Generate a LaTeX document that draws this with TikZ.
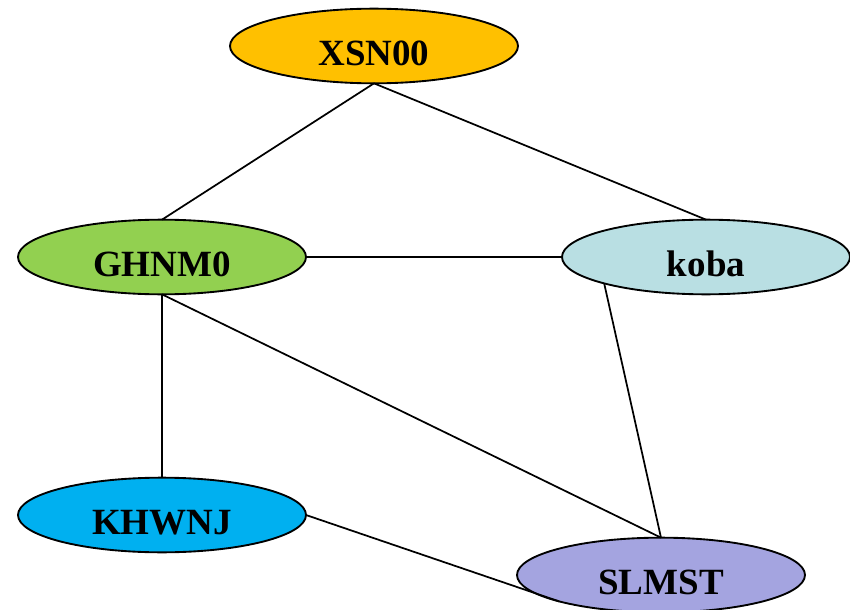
\documentclass[tikz,border=0pt]{standalone}
\usepackage{fontspec}
\setmainfont{Liberation Serif}
\usetikzlibrary{shapes.geometric}

\tikzset{
  oval/.style={ellipse, draw=black, line width=1.4pt, minimum width=216pt, minimum height=56pt,
    inner sep=0pt, outer sep=0pt, font=\fontsize{27.75}{33}\selectfont\bfseries,
    text height=28.5pt, text depth=0pt},
  link/.style={draw=black, line width=1.3pt}
}
\definecolor{cOrange}{RGB}{255,192,0}
\definecolor{cGreen}{RGB}{146,208,80}
\definecolor{cAqua}{RGB}{185,223,227}
\definecolor{cBlue}{RGB}{0,176,240}
\definecolor{cLav}{RGB}{164,164,224}

\begin{document}
\begin{tikzpicture}[x=0.75pt,y=0.75pt,yscale=-1,xscale=1]
\useasboundingbox (0,0) rectangle (850,610);

%Ellipses
\node [oval, fill=cOrange] (xsn) at (374,46) {XSN00};
\node [oval, fill=cGreen] (ghnm) at (162,257) {GHNM0};
\node [oval, fill=cAqua] (koba) at (706,257) {koba};
\node [oval, fill=cBlue] (khwnj) at (162,515) {KHWNJ};
\node [oval, fill=cLav] (slmst) at (661,575) {SLMST};

%Links
\draw [link] (xsn.south) -- (ghnm.north);
\draw [link] (xsn.south) -- (koba.north);
\draw [link] (ghnm.east) -- (koba.west);
\draw [link] (ghnm.south) -- (khwnj.north);
\draw [link] (ghnm.south) -- (slmst.north);
\draw [link] (koba.south west) -- (slmst.north);
\draw [link] (khwnj.east) -- (slmst.south west);

\end{tikzpicture}
\end{document}
